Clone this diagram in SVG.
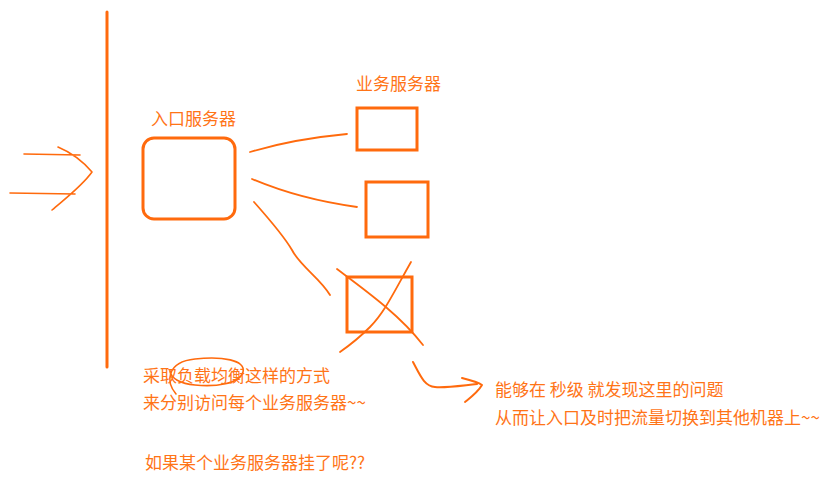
<svg xmlns="http://www.w3.org/2000/svg" width="838" height="486" viewBox="0 0 838 486">
<style>
.s{fill:none;stroke:#FF6A0D;stroke-linecap:round;stroke-linejoin:round}
.t{fill:#FF7417;font-family:"Noto Sans CJK SC","Liberation Sans",sans-serif;font-size:17px}
.b{fill:none;stroke:#FF6A0D;stroke-width:3}
</style>
<rect width="838" height="486" fill="#fff"/>
<g id="wall"><line x1="107" y1="12" x2="107" y2="367" class="s" stroke-width="3"/></g>
<g id="incoming">
<path class="s" stroke-width="1.6" d="M24,154 L80,155 M10,193 L75,194 M58,147 C70,152 80,158 92,172 C82,186 66,198 52,210"/>
</g>
<g id="entry">
<rect x="143" y="138" width="92" height="81" rx="11" class="b"/>
<text class="t" x="151" y="125" font-size="16.5">入口服务器</text>
</g>
<g id="server-label"><text class="t" x="356" y="90" font-size="16.5">业务服务器</text></g>
<g id="server1"><rect x="357" y="108" width="60" height="42" class="b"/></g>
<g id="server2"><rect x="366" y="182" width="62" height="55" class="b"/></g>
<g id="server3">
<rect x="347" y="277" width="65" height="55" class="b"/>
<path class="s" stroke-width="1.8" d="M337,269 C365,290 400,315 423,345 M411,262 C395,290 385,312 370,327 C360,337 350,345 340,352"/>
</g>
<g id="connectors">
<path class="s" stroke-width="1.8" d="M250,152 C280,143 315,137 347,134"/>
<path class="s" stroke-width="1.8" d="M252,179 C285,193 320,202 357,207"/>
<path class="s" stroke-width="1.8" d="M254,202 C270,220 285,238 292,250 C300,266 320,278 330,295"/>
<path class="s" stroke-width="2" d="M413,362 C420,375 424,386 435,387 C445,388 458,386 477,384 M462,378 C470,380 478,382 482,385 C478,392 470,398 465,402"/>
</g>
<g id="notes">
<path class="s" stroke-width="1.6" d="M176,394 C166,382 166,362 195,359 C222,356 246,360 243,372 C240,384 215,387 195,385 C180,384 171,378 170,371"/>
<text class="t" x="143" y="382">采取负载均衡这样的方式</text>
<text class="t" x="143" y="409">来分别访问每个业务服务器~~</text>
<text class="t" x="145" y="469">如果某个业务服务器挂了呢??</text>
<text class="t" x="495" y="396">能够在 秒级 就发现这里的问题</text>
<text class="t" x="495" y="424">从而让入口及时把流量切换到其他机器上~~</text>
</g>
</svg>
